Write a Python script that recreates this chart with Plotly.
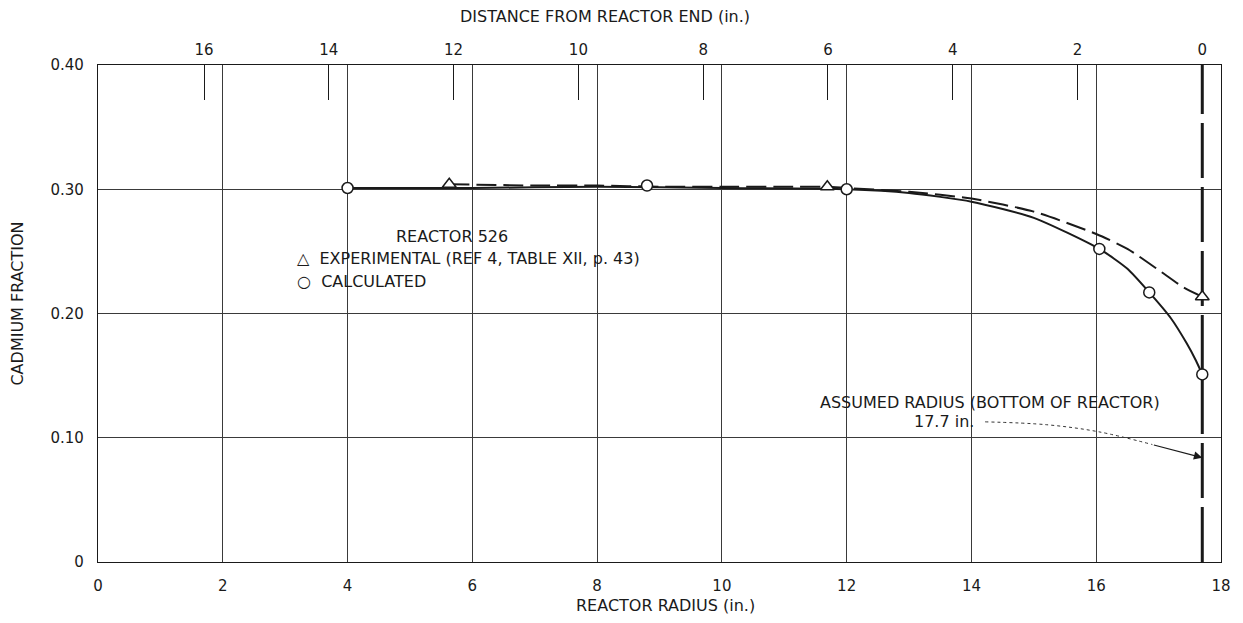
import plotly.graph_objects as go

# ---- data ----
calc_pts_x = [4.0, 8.8, 12.0, 16.05, 16.85, 17.7]
calc_pts_y = [0.301, 0.303, 0.300, 0.252, 0.217, 0.151]

exp_pts_x = [5.63, 11.69, 17.7]
exp_pts_y = [0.304, 0.302, 0.2135]

calc_curve_x = [4.0, 6.0, 8.0, 10.0, 12.0, 13.0, 14.0, 15.0, 16.05, 16.5, 16.85, 17.2, 17.45, 17.6, 17.7]
calc_curve_y = [0.301, 0.301, 0.302, 0.301, 0.300, 0.297, 0.290, 0.277, 0.252, 0.236, 0.217, 0.196, 0.176, 0.162, 0.151]

exp_curve_x = [5.63, 7.0, 8.0, 9.0, 10.0, 11.0, 11.69, 12.0, 13.0, 14.0, 15.0, 16.0, 16.5, 17.0, 17.4, 17.7]
exp_curve_y = [0.304, 0.303, 0.303, 0.302, 0.302, 0.302, 0.302, 0.301, 0.298, 0.2925, 0.282, 0.264, 0.252, 0.235, 0.221, 0.2135]

boundary_radius = 17.7
y_range = [0.0, 0.4]

leader_x = [14.22, 15.2, 16.04, 16.9]
leader_y = [0.1128, 0.1105, 0.1048, 0.0945]
arrow_tip = (17.7, 0.084)

x_ticks = [0, 2, 4, 6, 8, 10, 12, 14, 16, 18]
y_ticks = [0, 0.1, 0.2, 0.3, 0.4]
y_ticktext = ["0", "0.10", "0.20", "0.30", "0.40"]
top_ticks = [0, 2, 4, 6, 8, 10, 12, 14, 16]

FONT = "DejaVu Sans"
INK = "#1a1a1a"
TXT = 16
TICK = 15

fig = go.Figure()

# calculated curve (solid)
fig.add_trace(go.Scatter(x=calc_curve_x, y=calc_curve_y, mode="lines",
                         line=dict(color=INK, width=2, shape="spline", smoothing=0.6),
                         hoverinfo="skip", showlegend=False))
# experimental curve (long dash)
fig.add_trace(go.Scatter(x=exp_curve_x, y=exp_curve_y, mode="lines",
                         line=dict(color=INK, width=2, dash="20px,7px", shape="spline", smoothing=0.6),
                         hoverinfo="skip", showlegend=False))
# boundary line at assumed radius
fig.add_trace(go.Scatter(x=[boundary_radius, boundary_radius], y=y_range, mode="lines",
                         line=dict(color=INK, width=3, dash="55px,9px"),
                         hoverinfo="skip", showlegend=False))
# leader line of the annotation
fig.add_trace(go.Scatter(x=leader_x, y=leader_y, mode="lines",
                         line=dict(color="#333", width=1, dash="dot", shape="spline"),
                         hoverinfo="skip", showlegend=False))
# markers
fig.add_trace(go.Scatter(x=exp_pts_x, y=exp_pts_y, mode="markers", name="Experimental",
                         marker=dict(symbol="triangle-up", size=12, color="white",
                                     line=dict(color=INK, width=1.5)), showlegend=False))
fig.add_trace(go.Scatter(x=calc_pts_x, y=calc_pts_y, mode="markers", name="Calculated",
                         marker=dict(symbol="circle", size=11, color="white",
                                     line=dict(color=INK, width=1.5)), showlegend=False))
# dummy trace to activate top axis
fig.add_trace(go.Scatter(x=[boundary_radius - r for r in [0, 18]], y=[None, None], xaxis="x2",
                         mode="lines", hoverinfo="skip", showlegend=False))

txt = dict(family=FONT, size=TXT, color=INK)
annotations = [
    dict(text="REACTOR 526", x=5.68, y=0.262, xref="x", yref="y", showarrow=False,
         xanchor="center", yanchor="middle", font=txt),
    dict(text="\u25b3  EXPERIMENTAL (REF 4, TABLE XII, p. 43)", x=3.16, y=0.244, xref="x", yref="y",
         showarrow=False, xanchor="left", yanchor="middle", font=txt),
    dict(text="\u25cb  CALCULATED", x=3.16, y=0.2256, xref="x", yref="y",
         showarrow=False, xanchor="left", yanchor="middle", font=txt),
    dict(text="ASSUMED RADIUS (BOTTOM OF REACTOR)", x=11.54, y=0.128, xref="x", yref="y",
         showarrow=False, xanchor="left", yanchor="middle", font=txt),
    dict(text="17.7 in.", x=14.08, y=0.1128, xref="x", yref="y",
         showarrow=False, xanchor="right", yanchor="middle", font=txt),
    dict(text="", x=arrow_tip[0], y=arrow_tip[1], ax=leader_x[-1], ay=leader_y[-1],
         xref="x", yref="y", axref="x", ayref="y", showarrow=True,
         arrowhead=2, arrowsize=1.4, arrowwidth=1.2, arrowcolor=INK, standoff=0),
    dict(text="DISTANCE FROM REACTOR END (in.)", x=8.13, y=1, xref="x", yref="paper",
         yshift=49, showarrow=False, xanchor="center", yanchor="middle", font=txt),
    dict(text="REACTOR RADIUS (in.)", x=0.505, y=0, xref="paper", yref="paper",
         yshift=-43, showarrow=False, xanchor="center", yanchor="middle", font=txt),
    dict(text="CADMIUM FRACTION", x=0, y=0.52, xref="paper", yref="paper", xshift=-80,
         textangle=-90, showarrow=False, xanchor="center", yanchor="middle", font=txt),
]

fig.update_layout(
    width=1243, height=623,
    margin=dict(l=98, r=15, t=65, b=61),
    paper_bgcolor="white", plot_bgcolor="white",
    font=dict(family=FONT, size=TICK, color=INK),
    annotations=annotations,
    xaxis=dict(range=[0, 18], tickvals=x_ticks, showgrid=True, gridcolor="#3a3a3a", gridwidth=1,
               showline=True, linecolor=INK, linewidth=1.3, mirror=True, zeroline=False,
               ticks="", ticklabelstandoff=10, tickfont=dict(family=FONT, size=TICK, color=INK)),
    xaxis2=dict(overlaying="x", side="top", range=[boundary_radius, boundary_radius - 18],
                tickvals=top_ticks, ticks="inside", ticklen=35, tickwidth=1, tickcolor=INK,
                showgrid=False, showline=False, zeroline=False, ticklabelstandoff=6,
                tickfont=dict(family=FONT, size=TICK, color=INK)),
    yaxis=dict(range=y_range, tickvals=y_ticks, ticktext=y_ticktext, showgrid=True,
               gridcolor="#3a3a3a", gridwidth=1, showline=True, linecolor=INK, linewidth=1.3,
               mirror=True, zeroline=False, ticks="", ticklabelstandoff=10,
               tickfont=dict(family=FONT, size=TICK, color=INK)),
)

fig.write_html("out.html")
